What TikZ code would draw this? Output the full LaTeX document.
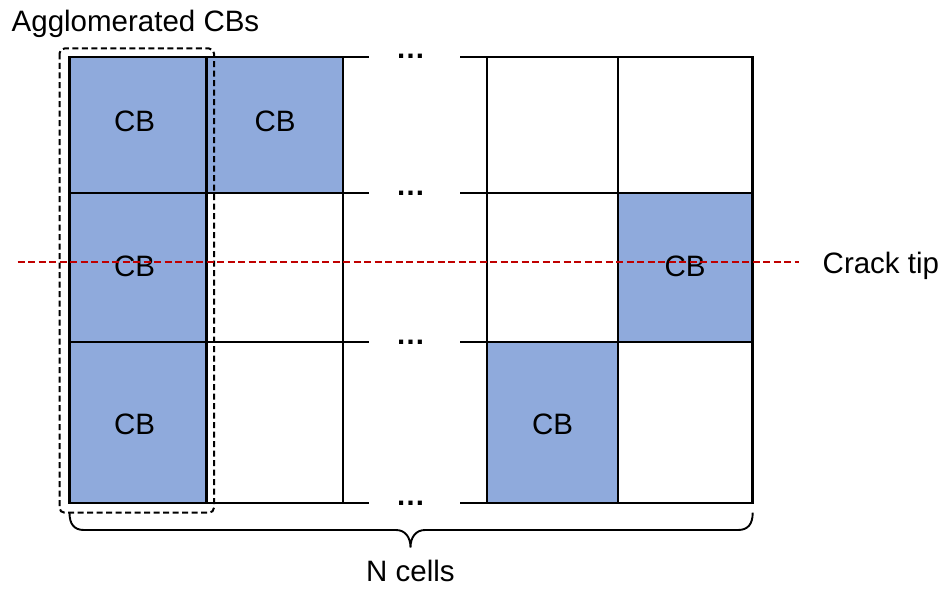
\documentclass[tikz,border=0pt]{standalone}
\usepackage{fontspec}
\setmainfont{Liberation Sans}
\definecolor{cbblue}{HTML}{8FAADC}
\definecolor{crackred}{HTML}{C00000}
\begin{document}
\begin{tikzpicture}[x=1pt,y=-1pt,
  gridline/.style={line width=2.3pt,line cap=rect,line join=miter},
  lbl/.style={inner sep=0pt,anchor=base,font=\fontsize{29.5}{34}\selectfont},
  dotsmark/.style={inner sep=0pt,anchor=base,font=\fontsize{29.5}{34}\selectfont\bfseries},
  groupbox/.style={line width=2pt,dash pattern=on 6pt off 3.5pt,rounded corners=5pt},
  crackline/.style={crackred,line width=2pt,dash pattern=on 7pt off 3.5pt},
  bracestyle/.style={line width=1.9pt}]
\useasboundingbox (0,0) rectangle (945,594);

% filled cells
\fill[cbblue] (69.5,56.7) rectangle (206.5,503);
\fill[cbblue] (206.5,56.7) rectangle (343,193);
\fill[cbblue] (618,193) rectangle (752.5,342);
\fill[cbblue] (487,342) rectangle (618,503);

% left block of the grid
\draw[gridline] (368,56.7) -- (69.5,56.7) -- (69.5,503) -- (368,503);
\draw[gridline] (69.5,193) -- (368,193);
\draw[gridline] (69.5,342) -- (368,342);
\draw[gridline] (206.5,56.7) -- (206.5,503);
\draw[gridline] (343,56.7) -- (343,503);

% right block of the grid
\draw[gridline] (461,56.7) -- (752.5,56.7) -- (752.5,503) -- (461,503);
\draw[gridline] (461,193) -- (752.5,193);
\draw[gridline] (461,342) -- (752.5,342);
\draw[gridline] (487,56.7) -- (487,503);
\draw[gridline] (618,56.7) -- (618,503);

% ellipses in the gap between the blocks
\node[dotsmark] (d1) at (410.5,58.7) {…};
\node[dotsmark] (d2) at (410.5,195) {…};
\node[dotsmark] (d3) at (410.5,344) {…};
\node[dotsmark] (d4) at (410.5,505) {…};

% cell labels
\node[lbl] (cb11) at (134.5,131) {CB};
\node[lbl] (cb12) at (275,131) {CB};
\node[lbl] (cb21) at (134.5,276) {CB};
\node[lbl] (cb24) at (685,276) {CB};
\node[lbl] (cb31) at (134.5,434.5) {CB};
\node[lbl] (cb33) at (552.5,434.5) {CB};

% group of agglomerated cells
\draw[groupbox] (59.5,48.5) rectangle (214,512.7);
\node[lbl,anchor=base west] (agg) at (11.5,31.7) {Agglomerated CBs};

% crack tip
\coordinate (crackstart) at (17.5,262.3);
\node[lbl,anchor=base west] (crack) at (822.5,273) {Crack tip};
\draw[crackline] (crackstart) -- (799,262.3);

% brace under the grid
\draw[bracestyle] (69.5,512.7) .. controls (69.5,524) and (74,530) .. (84,530)
  -- (396,530) .. controls (405,530) and (410.5,537) .. (410.5,547.5)
  .. controls (410.5,537) and (416,530) .. (425,530)
  -- (738,530) .. controls (748,530) and (752.7,524) .. (752.7,512.7);
\node[lbl] (ncells) at (410.5,581.5) {N cells};
\end{tikzpicture}
\end{document}
